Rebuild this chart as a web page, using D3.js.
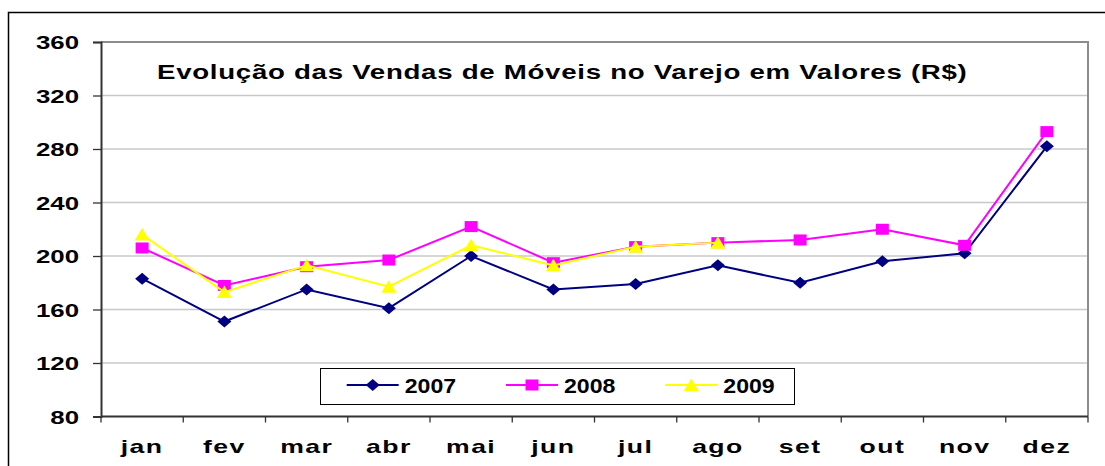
<!DOCTYPE html>
<html>
<head>
<meta charset="utf-8">
<script src="https://cdn.jsdelivr.net/npm/d3@7"></script>
<style>
  body { margin: 0; background: #fff; }
  svg { display: block; font-family: "Liberation Sans", Arial, sans-serif; font-weight: bold; }
</style>
</head>
<body>
<div id="chart"></div>
<script>
var months = ["jan", "fev", "mar", "abr", "mai", "jun", "jul", "ago", "set", "out", "nov", "dez"];
var yTicks = [80, 120, 160, 200, 240, 280, 320, 360];
var seriesNames = ["2007", "2008", "2009"];
var v2007 = [183, 151, 175, 161, 200, 175, 179, 193, 180, 196, 202, 282];
var v2008 = [206, 178, 192, 197, 222, 195, 207, 210, 212, 220, 208, 293];
var v2009 = [216, 173, 193, 177, 208, 193, 207, 210];
var title = "Evolução das Vendas de Móveis no Varejo em Valores (R$)";

var W = 1105, H = 466;
var plot = {left: 101, top: 42, right: 1088, bottom: 416.5};

var series = [
  {name: seriesNames[0], values: v2007, color: "#000080", marker: "diamond"},
  {name: seriesNames[1], values: v2008, color: "#ff00ff", marker: "square"},
  {name: seriesNames[2], values: v2009, color: "#ffff00", marker: "triangle"}
];

var svg = d3.select("#chart").append("svg")
  .attr("width", W)
  .attr("height", H);

// chart area border (runs past the window on the right / bottom)
svg.append("rect")
  .attr("x", 8.5).attr("y", 12.5)
  .attr("width", 1200).attr("height", 600)
  .attr("fill", "#fff")
  .attr("stroke", "#000").attr("stroke-width", 1.5);

var x = d3.scaleBand().domain(months).range([plot.left, plot.right]).padding(0);
var y = d3.scaleLinear().domain([80, 360]).range([plot.bottom, plot.top]);

// gridlines
svg.append("g").selectAll("line")
  .data(yTicks.filter(function(d) { return d > 80 && d < 360; }))
  .enter().append("line")
  .attr("x1", plot.left).attr("x2", plot.right)
  .attr("y1", function(d) { return y(d); })
  .attr("y2", function(d) { return y(d); })
  .attr("stroke", "#c8c8c8").attr("stroke-width", 1.3);

// plot frame: gray top/right
svg.append("path")
  .attr("d", "M" + plot.left + "," + plot.top + "H" + plot.right + "V" + plot.bottom)
  .attr("fill", "none").attr("stroke", "#8c8c8c").attr("stroke-width", 2);

// y axis
var yAxis = svg.append("g")
  .attr("transform", "translate(" + plot.left + ",0)")
  .call(d3.axisLeft(y).tickValues(yTicks).tickSize(8).tickPadding(0));
yAxis.select(".domain").attr("stroke", "#333").attr("stroke-width", 2);
yAxis.selectAll(".tick line").attr("stroke", "#333").attr("stroke-width", 1.3);
yAxis.selectAll(".tick text").remove();
yAxis.selectAll(".tick").append("text")
  .attr("transform", "translate(-22,0) scale(1.36,1)")
  .attr("text-anchor", "end")
  .attr("dy", "0.36em")
  .attr("fill", "#000")
  .style("font-size", "19px")
  .text(function(d) { return d; });

// x axis with ticks at category boundaries
var xg = svg.append("g");
xg.append("line")
  .attr("x1", plot.left).attr("x2", plot.right)
  .attr("y1", plot.bottom).attr("y2", plot.bottom)
  .attr("stroke", "#333").attr("stroke-width", 2);
var edges = months.map(function(m) { return x(m); }).concat([x(months[11]) + x.bandwidth()]);
xg.selectAll(".xt").data(edges).enter().append("line")
  .attr("x1", function(d) { return d; }).attr("x2", function(d) { return d; })
  .attr("y1", plot.bottom).attr("y2", plot.bottom + 6)
  .attr("stroke", "#333").attr("stroke-width", 1.3);
xg.selectAll(".xl").data(months).enter().append("text")
  .attr("transform", function(d) { return "translate(" + (x(d) + x.bandwidth() / 2) + ",453) scale(1.4,1)"; })
  .attr("text-anchor", "middle")
  .style("font-size", "19px")
  .style("letter-spacing", "1px")
  .text(function(d) { return d; });

// title, stretched to the reference width
var t = svg.append("text")
  .style("font-size", "19.5px")
  .style("letter-spacing", "0.5px")
  .text(title);
var tw = t.node().getComputedTextLength();
t.attr("transform", "translate(157,79) scale(" + (811 / tw) + ",1)");

function markerPath(type) {
  if (type === "diamond") return "M0,-6L7,0L0,6L-7,0Z";
  if (type === "square") return "M-6.5,-5.5H6.5V5.5H-6.5Z";
  return "M0,-6.5L7.5,6L-7.5,6Z";
}

var line = d3.line()
  .x(function(d, i) { return x(months[i]) + x.bandwidth() / 2; })
  .y(function(d) { return y(d); });

var sg = svg.selectAll(".series").data(series).enter().append("g");
sg.append("path")
  .attr("d", function(s) { return line(s.values); })
  .attr("fill", "none")
  .attr("stroke", function(s) { return s.color; })
  .attr("stroke-width", 2);
sg.each(function(s) {
  d3.select(this).selectAll("path.m").data(s.values).enter().append("path")
    .attr("class", "m")
    .attr("d", markerPath(s.marker))
    .attr("transform", function(d, i) { return "translate(" + (x(months[i]) + x.bandwidth() / 2) + "," + y(d) + ")"; })
    .attr("fill", s.color);
});

// legend
var lg = svg.append("g");
lg.append("rect")
  .attr("x", 320.5).attr("y", 368.5)
  .attr("width", 474).attr("height", 36)
  .attr("fill", "#fff").attr("stroke", "#000").attr("stroke-width", 1);
var li = lg.selectAll(".li").data(series).enter().append("g")
  .attr("transform", function(d, i) { return "translate(" + (346.7 + i * 159.3) + ",385)"; });
li.append("line")
  .attr("x1", 0).attr("x2", 52)
  .attr("stroke", function(d) { return d.color; }).attr("stroke-width", 2);
li.append("path")
  .attr("d", function(d) { return markerPath(d.marker); })
  .attr("transform", "translate(26,0)")
  .attr("fill", function(d) { return d.color; });
li.append("text")
  .attr("transform", "translate(58,7.5) scale(1.1,1)")
  .style("font-size", "21px")
  .text(function(d) { return d.name; });
</script>
</body>
</html>
